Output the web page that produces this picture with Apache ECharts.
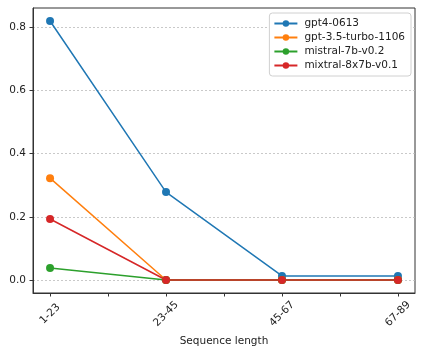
<!DOCTYPE html>
<html>
<head>
<meta charset="utf-8">
<script src="https://cdn.jsdelivr.net/npm/echarts@6/dist/echarts.min.js"></script>
<style>
  html, body { margin: 0; padding: 0; background: #fff; }
  #chart { width: 423px; height: 353px; }
</style>
</head>
<body>
<div id="chart"></div>
<script>
const categories = ["1-23", "23-45", "45-67", "67-89"];
const gpt4 = [0.819, 0.278, 0.013, 0.013];
const gpt35 = [0.322, 0.0, 0.0, 0.0];
const mistral = [0.038, 0.0, 0.0, 0.0];
const mixtral = [0.193, 0.0, 0.0, 0.0];
const yTicks = [0, 0.2, 0.4, 0.6, 0.8];
const xTicks = [0, 0.5, 1, 1.5, 2, 2.5, 3];

const font = "DejaVu Sans";
const fs = 10.5;
const chart = echarts.init(document.getElementById("chart"));

function line(name, values, color) {
  return {
    name,
    type: "line",
    data: values.map((v, i) => [i, v]),
    symbol: "circle",
    symbolSize: 8,
    color,
    lineStyle: { width: 1.5, color },
    itemStyle: { color },
    emphasis: { disabled: true },
  };
}

chart.setOption({
  animation: false,
  backgroundColor: "#fff",
  textStyle: { fontFamily: font },
  grid: {
    left: 33, right: 8, top: 8, bottom: 60,
    show: true, borderColor: "#333", borderWidth: 1, backgroundColor: "transparent",
  },
  legend: {
    orient: "vertical",
    right: 12,
    top: 13,
    padding: [5, 6, 5, 4],
    itemGap: 3,
    itemWidth: 23,
    itemHeight: 8,
    backgroundColor: "#fff",
    borderColor: "#d0d0d0",
    borderWidth: 1,
    borderRadius: 3,
    textStyle: { fontFamily: font, fontSize: fs, color: "#222", padding: [0, 0, 0, 2] },
    data: ["gpt4-0613", "gpt-3.5-turbo-1106", "mistral-7b-v0.2", "mixtral-8x7b-v0.1"],
  },
  xAxis: {
    type: "value",
    min: -0.147,
    max: 3.147,
    name: "Sequence length",
    nameLocation: "middle",
    nameGap: 40,
    nameTextStyle: { fontFamily: font, fontSize: fs, color: "#222" },
    axisLine: { show: true, onZero: false, lineStyle: { color: "#333", width: 1 } },
    axisTick: { show: true, length: 3.5, lineStyle: { color: "#333" }, customValues: xTicks },
    axisLabel: {
      customValues: [0, 1, 2, 3],
      formatter: (v) => categories[Math.round(v)],
      rotate: 45,
      align: "center",
      verticalAlign: "middle",
      margin: 21,
      fontFamily: font,
      fontSize: fs,
      color: "#222",
    },
    splitLine: { show: false },
  },
  yAxis: {
    type: "value",
    min: -0.041,
    max: 0.86,
    axisLine: { show: true, onZero: false, lineStyle: { color: "#333", width: 1 } },
    axisTick: { show: true, length: 3.5, lineStyle: { color: "#333" }, customValues: yTicks },
    axisLabel: {
      customValues: yTicks,
      formatter: (v) => v.toFixed(1),
      margin: 7,
      fontFamily: font,
      fontSize: fs,
      color: "#222",
    },
    splitLine: { show: true, lineStyle: { color: "#bbb", type: [2, 2], width: 0.8 } },
  },
  series: [
    line("gpt4-0613", gpt4, "#1f77b4"),
    line("gpt-3.5-turbo-1106", gpt35, "#ff7f0e"),
    line("mistral-7b-v0.2", mistral, "#2ca02c"),
    line("mixtral-8x7b-v0.1", mixtral, "#d62728"),
  ],
});
</script>
</body>
</html>
